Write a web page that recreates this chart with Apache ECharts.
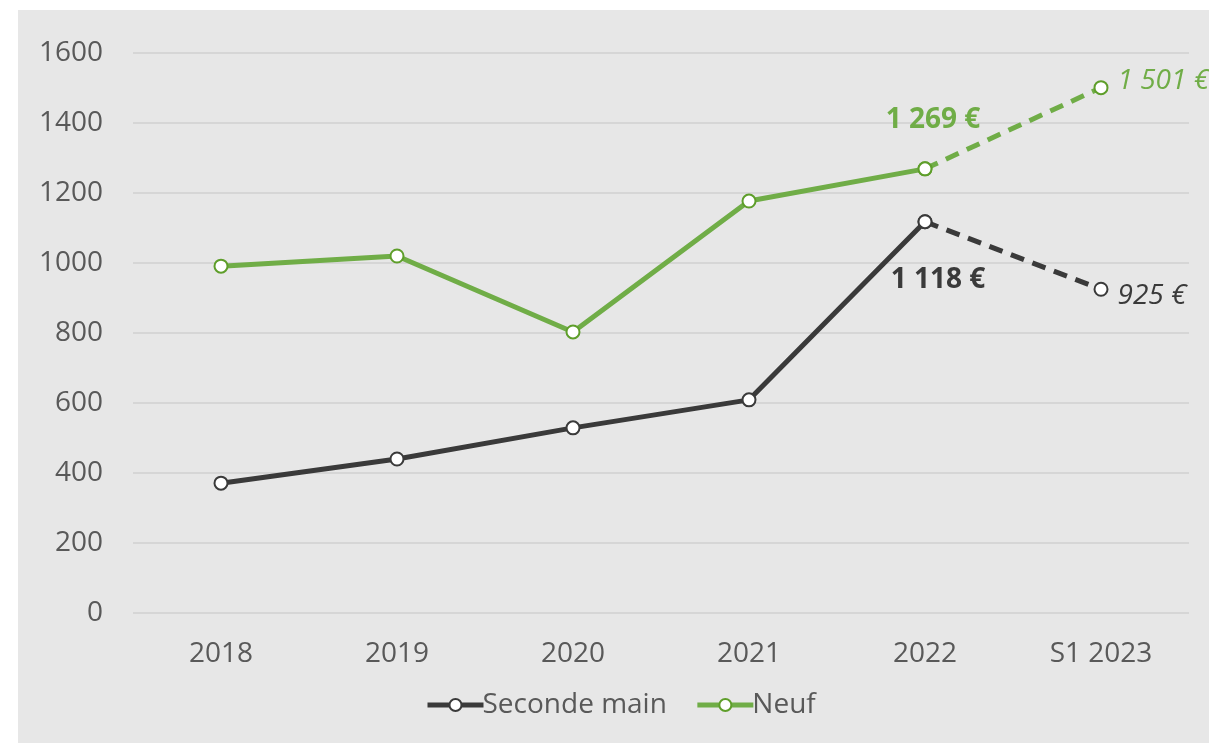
<!DOCTYPE html>
<html>
<head>
<meta charset="utf-8">
<script src="https://cdn.jsdelivr.net/npm/echarts@6/dist/echarts.min.js"></script>
<style>
  html, body { margin: 0; padding: 0; background: #ffffff; }
  #panel { position: absolute; left: 18px; top: 10px; width: 1191px; height: 733px; background: #e7e7e7; }
  #chart { position: absolute; left: 0; top: 0; width: 1209px; height: 743px; }
</style>
</head>
<body>
<div id="panel"></div>
<div id="chart"></div>
<script>
// Average prices by year, in euros
const categories = ['2018', '2019', '2020', '2021', '2022', 'S1 2023'];
const secondeMain = [371, 440, 529, 609, 1118, 925];
const neuf = [991, 1020, 803, 1177, 1269, 1501];
const yTicks = { min: 0, max: 1600, interval: 200 };

const DARK = '#3a3a3a';
const GREEN = '#70ad47';
const GREEN_EDGE = '#5e9e2a';
const FONT = '"Open Sans", sans-serif';
const FS = 28;
const last = categories.length - 1;

// "1 269 €" style formatting (space as thousands separator)
function euro(v) {
  return String(Math.round(v)).replace(/\B(?=(\d{3})+(?!\d))/g, ' ') + ' €';
}

// solid part: everything up to 2022; dashed part: 2022 -> S1 2023
function solidPart(arr) { return arr.map((v, i) => (i < last ? v : null)); }
function dashedPart(arr) { return arr.map((v, i) => (i >= last - 1 ? v : null)); }

const marker = (color) => ({ color: '#ffffff', borderColor: color, borderWidth: 2 });

const chart = echarts.init(document.getElementById('chart'), null, { renderer: 'canvas' });

chart.setOption({
  backgroundColor: 'transparent',
  animation: false,
  textStyle: { fontFamily: FONT },
  grid: { left: 133, right: 20, top: 53, bottom: 130 },
  legend: {
    data: ['Seconde main', 'Neuf'],
    bottom: 19,
    left: 420,
    itemWidth: 56,
    itemHeight: 15,
    itemGap: 28,
    lineStyle: { width: 5 },
    textStyle: { fontFamily: FONT, fontSize: FS, color: '#595959', padding: [0, 0, 0, -6] }
  },
  xAxis: {
    type: 'category',
    data: categories,
    boundaryGap: true,
    axisLine: { show: false },
    axisTick: { show: false },
    axisLabel: { color: '#595959', fontSize: FS, fontFamily: FONT, margin: 27 }
  },
  yAxis: {
    type: 'value',
    min: yTicks.min,
    max: yTicks.max,
    interval: yTicks.interval,
    axisLine: { show: false },
    axisTick: { show: false },
    axisLabel: {
      color: '#595959', fontSize: FS, fontFamily: FONT, margin: 30,
      formatter: (v) => String(v)
    },
    splitLine: { lineStyle: { color: '#d6d6d6', width: 2 } }
  },
  series: [
    {
      name: 'Seconde main',
      type: 'line',
      data: solidPart(secondeMain),
      symbol: 'circle',
      symbolSize: 13,
      showAllSymbol: true,
      lineStyle: { color: DARK, width: 5 },
      itemStyle: marker(DARK),
      z: 3,
      label: {
        show: true,
        position: 'bottom',
        distance: 37,
        offset: [13, 0],
        fontFamily: FONT,
        fontSize: FS,
        fontWeight: 'bold',
        color: DARK,
        formatter: (p) => (p.dataIndex === last - 1 ? euro(p.value) : '')
      }
    },
    {
      name: 'Seconde main',
      type: 'line',
      data: dashedPart(secondeMain),
      symbol: 'circle',
      symbolSize: 13,
      showSymbol: true,
      lineStyle: { color: DARK, width: 5, type: [14, 9] },
      itemStyle: marker(DARK),
      z: 2,
      label: {
        show: true,
        position: 'right',
        distance: 9,
        offset: [0, 7],
        fontFamily: FONT,
        fontSize: FS,
        fontStyle: 'italic',
        color: DARK,
        formatter: (p) => (p.dataIndex === last ? euro(p.value) : '')
      }
    },
    {
      name: 'Neuf',
      type: 'line',
      data: solidPart(neuf),
      symbol: 'circle',
      symbolSize: 13,
      lineStyle: { color: GREEN, width: 5 },
      itemStyle: marker(GREEN_EDGE),
      z: 3,
      label: {
        show: true,
        position: 'top',
        distance: 27,
        offset: [8, 0],
        fontFamily: FONT,
        fontSize: FS,
        fontWeight: 'bold',
        color: GREEN,
        formatter: (p) => (p.dataIndex === last - 1 ? euro(p.value) : '')
      }
    },
    {
      name: 'Neuf',
      type: 'line',
      data: dashedPart(neuf),
      symbol: 'circle',
      symbolSize: 13,
      lineStyle: { color: GREEN, width: 5, type: [14, 9] },
      itemStyle: marker(GREEN_EDGE),
      z: 2,
      label: {
        show: true,
        position: 'right',
        distance: 9,
        offset: [0, -7],
        fontFamily: FONT,
        fontSize: FS,
        fontStyle: 'italic',
        color: GREEN,
        formatter: (p) => (p.dataIndex === last ? euro(p.value) : '')
      }
    }
  ]
});
</script>
</body>
</html>
